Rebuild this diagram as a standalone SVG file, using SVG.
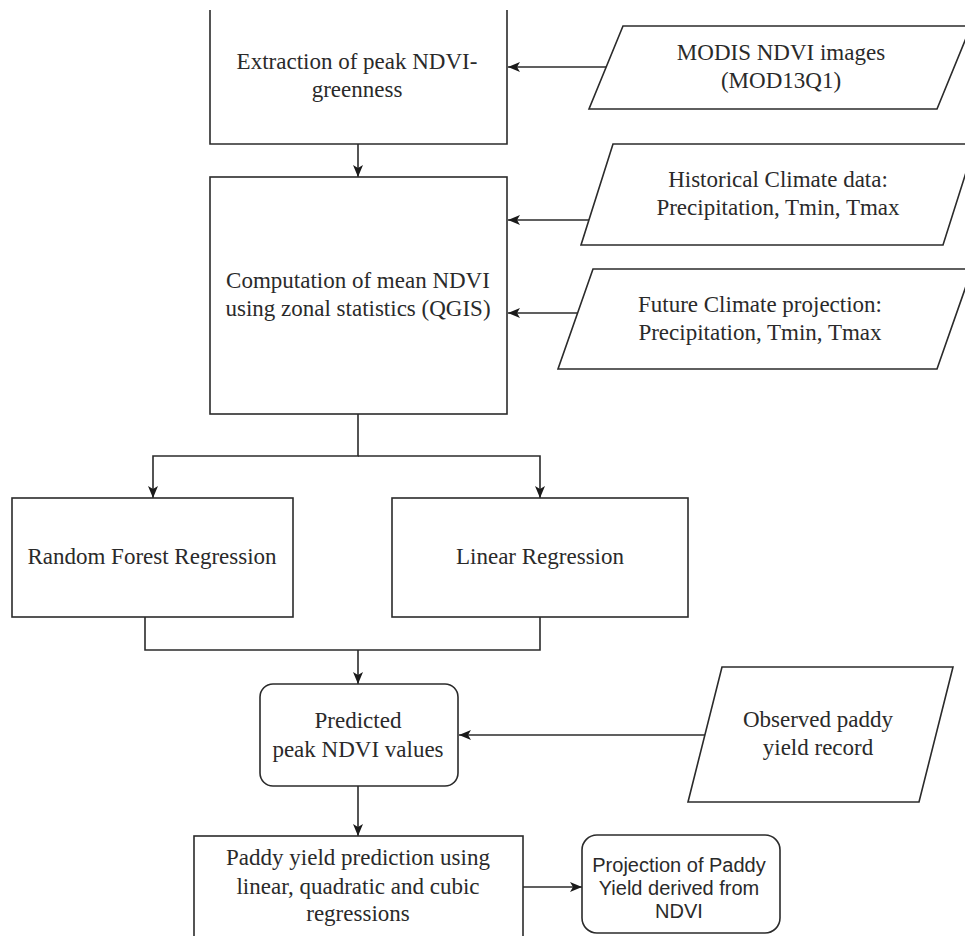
<svg xmlns="http://www.w3.org/2000/svg" width="965" height="936" viewBox="0 0 965 936">
  <style>
    .shape { fill: #ffffff; stroke: #2b2b2b; stroke-width: 1.6; }
    .edge { fill: none; stroke: #2b2b2b; stroke-width: 1.6; }
    .serif { font-family: "Liberation Serif", "Times New Roman", serif; font-size: 23px; fill: #2a2a2a; text-anchor: middle; }
    .sans { font-family: "Liberation Sans", Arial, sans-serif; font-size: 20px; fill: #2a2a2a; text-anchor: middle; }
  </style>
  <defs>
    <marker id="arrow" viewBox="0 0 12 10" refX="12" refY="5" markerWidth="12" markerHeight="10" markerUnits="userSpaceOnUse" orient="auto">
      <path d="M0,0 L12,5 L0,10 L3,5 z" fill="#1a1a1a"/>
    </marker>
  </defs>
  <rect width="965" height="936" fill="#ffffff"/>

  <g id="connectors">
    <line class="edge" x1="606" y1="67" x2="508" y2="67" marker-end="url(#arrow)"/>
    <line class="edge" x1="358" y1="144" x2="358" y2="177" marker-end="url(#arrow)"/>
    <line class="edge" x1="589" y1="220" x2="508" y2="220" marker-end="url(#arrow)"/>
    <line class="edge" x1="578" y1="313" x2="508" y2="313" marker-end="url(#arrow)"/>
    <path class="edge" d="M358,414 L358,456 L153,456 L153,498" marker-end="url(#arrow)"/>
    <path class="edge" d="M358,456 L540,456 L540,498" marker-end="url(#arrow)"/>
    <path class="edge" d="M145,617 L145,650 L540,650 L540,617"/>
    <line class="edge" x1="358" y1="650" x2="358" y2="684" marker-end="url(#arrow)"/>
    <line class="edge" x1="705" y1="735" x2="459" y2="735" marker-end="url(#arrow)"/>
    <line class="edge" x1="358" y1="786" x2="358" y2="836" marker-end="url(#arrow)"/>
    <line class="edge" x1="523" y1="887" x2="582" y2="887" marker-end="url(#arrow)"/>
  </g>

  <g id="extraction">
    <path class="shape" d="M210,10 L210,144 L507,144 L507,10"/>
    <text class="serif" x="357" y="69">Extraction of peak NDVI-</text>
    <text class="serif" x="357" y="97">greenness</text>
  </g>

  <g id="modis">
    <polygon class="shape" points="623,26 971,26 937,109 589,109"/>
    <text class="serif" x="781" y="60">MODIS NDVI images</text>
    <text class="serif" x="781" y="88">(MOD13Q1)</text>
  </g>

  <g id="computation">
    <rect class="shape" x="210" y="177" width="297" height="237"/>
    <text class="serif" x="358" y="288">Computation of mean NDVI</text>
    <text class="serif" x="358" y="316">using zonal statistics (QGIS)</text>
  </g>

  <g id="historical">
    <polygon class="shape" points="613,144 975,144 943,245 581,245"/>
    <text class="serif" x="778" y="187">Historical Climate data:</text>
    <text class="serif" x="778" y="215">Precipitation, Tmin, Tmax</text>
  </g>

  <g id="future">
    <polygon class="shape" points="593,269 972,269 937,369 558,369"/>
    <text class="serif" x="760" y="312">Future Climate projection:</text>
    <text class="serif" x="760" y="340">Precipitation, Tmin, Tmax</text>
  </g>

  <g id="random-forest">
    <rect class="shape" x="12" y="498" width="281" height="119"/>
    <text class="serif" x="152" y="564">Random Forest Regression</text>
  </g>

  <g id="linear">
    <rect class="shape" x="392" y="498" width="296" height="119"/>
    <text class="serif" x="540" y="564">Linear Regression</text>
  </g>

  <g id="predicted">
    <rect class="shape" x="260" y="684" width="198" height="102" rx="13" ry="13"/>
    <text class="serif" x="358" y="728">Predicted</text>
    <text class="serif" x="358" y="757">peak NDVI values</text>
  </g>

  <g id="observed">
    <polygon class="shape" points="722,667 953,667 919,802 688,802"/>
    <text class="serif" x="818" y="727">Observed paddy</text>
    <text class="serif" x="818" y="755">yield record</text>
  </g>

  <g id="paddy-prediction">
    <rect class="shape" x="194" y="836" width="329" height="120"/>
    <text class="serif" x="358" y="865">Paddy yield prediction using</text>
    <text class="serif" x="358" y="894">linear, quadratic and cubic</text>
    <text class="serif" x="358" y="921">regressions</text>
  </g>

  <g id="projection">
    <rect class="shape" x="582" y="835" width="198" height="98" rx="15" ry="15"/>
    <text class="sans" x="679" y="872">Projection of Paddy</text>
    <text class="sans" x="679" y="895">Yield derived from</text>
    <text class="sans" x="679" y="918">NDVI</text>
  </g>
</svg>
